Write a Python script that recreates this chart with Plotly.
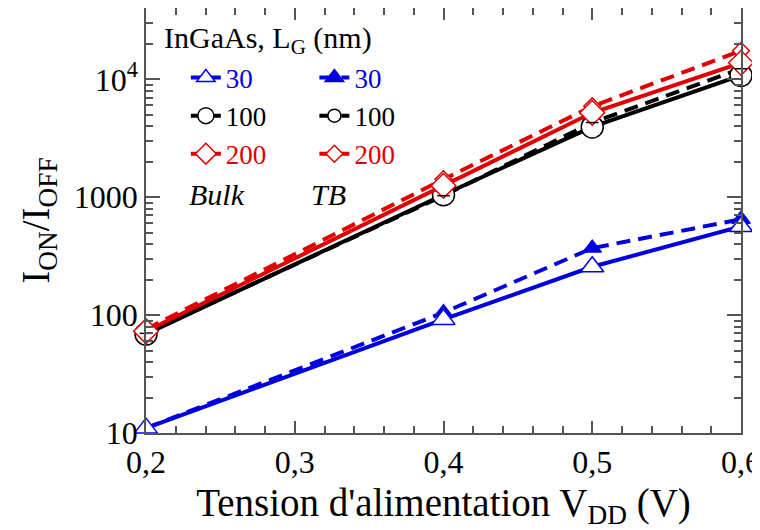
import plotly.graph_objects as go

vdd = [0.2, 0.4, 0.5, 0.6]
bulk_30 = [11, 92, 257, 565]
tb_30 = [11, 105, 370, 650]
bulk_100 = [69, 1050, 3950, 10800]
tb_100 = [70, 1030, 4300, 12300]
bulk_200 = [73, 1250, 5200, 13800]
tb_200 = [76, 1420, 5900, 17500]

xtick_vals = [0.2, 0.3, 0.4, 0.5, 0.6]
xtick_text = ["0,2", "0,3", "0,4", "0,5", "0,6"]
ytick_vals = [10, 100, 1000, 10000]
ytick_text = ["10", "100", "1000", "10<sup>4</sup>"]

BLUE = "#0000e0"
RED = "#e00000"
BLACK = "#000000"
FONT = "Liberation Serif"

fig = go.Figure()

def add(y, name, color, dash, symbol, size, legend, fill=None, lw=1.5):
    fig.add_trace(go.Scatter(
        x=vdd, y=y, mode="lines+markers",
        name=f'<span style="color:{color}">{name}</span>',
        line=dict(color=color, width=4, dash=dash),
        marker=dict(symbol=symbol, size=size, color=fill if fill else "white",
                    line=dict(color=color, width=lw)),
        legend=legend,
        cliponaxis=False,
    ))

DASH = "14px,8px"
add(tb_30, "30", BLUE, DASH, "triangle-up", 16, "legend2", fill=BLUE)
add(tb_100, "100", BLACK, DASH, "circle", 13, "legend2", fill="white")
add(tb_200, "200", RED, DASH, "diamond", 13, "legend2", fill="white")
add(bulk_30, "30", BLUE, "solid", "triangle-up", 20, "legend")
add(bulk_100, "100", BLACK, "solid", "circle", 22, "legend")
add(bulk_200, "200", RED, "solid", "diamond", 19, "legend")

# horizontal bar inside TB 100 markers
fig.add_trace(go.Scatter(x=vdd, y=tb_100, mode="markers", showlegend=False, cliponaxis=False,
                         marker=dict(symbol="line-ew", size=9,
                                     line=dict(color=BLACK, width=1.5))))

axis_common = dict(showline=True, linecolor="#555", linewidth=1.5, mirror="ticks",
                   ticks="inside", tickcolor="#555", tickwidth=1.5, showgrid=False,
                   zeroline=False, automargin=False, ticklabeloverflow="allow",
                   tickfont=dict(family=FONT, size=32, color="black"))

minor_y = [m * 10 ** k for k in range(1, 5) for m in range(2, 10)]

fig.update_xaxes(range=[0.2, 0.6], tickvals=xtick_vals, ticktext=xtick_text, ticklen=12,
                 minor=dict(dtick=0.02, tick0=0.2, ticks="inside", ticklen=7, tickcolor="#555"),
                 title=dict(text="Tension d'alimentation V<sub>DD</sub> (V)",
                            font=dict(family=FONT, size=39, color="black"), standoff=27),
                 **axis_common)
fig.update_yaxes(type="log", range=[1, 4.605], tickvals=ytick_vals, ticktext=ytick_text, ticklen=14,
                 minor=dict(tickvals=minor_y, ticks="inside", ticklen=7, tickcolor="#555"),
                 title=dict(text="I<sub>ON</sub>/I<sub>OFF</sub>",
                            font=dict(family=FONT, size=39, color="black"), standoff=12),
                 **axis_common)

# page body has an 8px default margin; size the figure so the plot lands where it should
fig.update_layout(
    width=752, height=522,
    margin=dict(l=138, r=19, t=0, b=97),
    plot_bgcolor="white", paper_bgcolor="white",
    font=dict(family=FONT, color="black"),
    legend=dict(x=0.067, y=0.893, xanchor="left", yanchor="top",
                font=dict(family=FONT, size=27), bgcolor="rgba(0,0,0,0)",
                traceorder="normal", itemsizing="trace"),
    legend2=dict(x=0.283, y=0.893, xanchor="left", yanchor="top",
                 font=dict(family=FONT, size=27), bgcolor="rgba(0,0,0,0)",
                 traceorder="normal", itemsizing="trace"),
    annotations=[
        dict(text="InGaAs, L<sub>G</sub> (nm)", x=0.027, y=0.925, xref="paper", yref="paper",
             xanchor="left", yanchor="middle", showarrow=False,
             font=dict(family=FONT, size=30, color="black")),
        dict(text="<i>Bulk</i>", x=0.12, y=0.56, xref="paper", yref="paper", showarrow=False,
             xanchor="center", font=dict(family=FONT, size=30, color="black")),
        dict(text="<i>TB</i>", x=0.306, y=0.56, xref="paper", yref="paper", showarrow=False,
             xanchor="center", font=dict(family=FONT, size=30, color="black")),
    ],
)

fig.write_html("out.html")
